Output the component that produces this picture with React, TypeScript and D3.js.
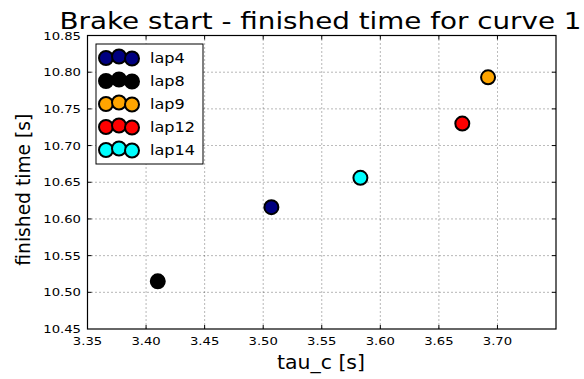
import * as d3 from 'd3';

const laps = ['lap4', 'lap8', 'lap9', 'lap12', 'lap14'];
const tauC = [3.507, 3.41, 3.692, 3.67, 3.583];
const finishedTime = [10.616, 10.515, 10.793, 10.73, 10.656];
const lapColors = ['#000080', '#000000', '#ffa500', '#ff0000', '#00ffff'];
const xTicks = [3.35, 3.4, 3.45, 3.5, 3.55, 3.6, 3.65, 3.7, 3.75];
const yTicks = [10.45, 10.5, 10.55, 10.6, 10.65, 10.7, 10.75, 10.8, 10.85];

const W = 584;
const H = 379;
const left = 87.5;
const right = 556;
const top = 35.5;
const bottom = 329;
const font = 'DejaVu Sans, sans-serif';

// text stretched horizontally, like the reference picture
const T = ({ x, y, sx, size, anchor = 'start', children }: any) => (
  <text transform={`translate(${x},${y}) scale(${sx},1)`} fontSize={size} textAnchor={anchor} fill="#000">
    {children}
  </text>
);

const App = () => {
  const x = d3.scaleLinear().domain([3.35, 3.75]).range([left, right]);
  const y = d3.scaleLinear().domain([10.45, 10.85]).range([bottom, top]);
  const fmt = d3.format('.2f');

  return (
    <svg width={W} height={H} style={{ position: 'absolute', left: 0, top: 0 }} fontFamily={font}>
      <rect x={0} y={0} width={W} height={H} fill="#fff" />
      {/* grid */}
      {xTicks.slice(1, -1).map((t) => (
        <line key={'gx' + t} x1={x(t)} x2={x(t)} y1={top} y2={bottom} stroke="#000" strokeWidth={0.8} strokeDasharray="1,3" opacity={0.7} />
      ))}
      {yTicks.slice(1, -1).map((t) => (
        <line key={'gy' + t} x1={left} x2={right} y1={y(t)} y2={y(t)} stroke="#000" strokeWidth={0.8} strokeDasharray="1,3" opacity={0.7} />
      ))}
      {/* ticks, inside on all sides */}
      {xTicks.slice(1, -1).map((t) => (
        <g key={'tx' + t} stroke="#000">
          <line x1={x(t)} x2={x(t)} y1={bottom} y2={bottom - 4} />
          <line x1={x(t)} x2={x(t)} y1={top} y2={top + 4} />
        </g>
      ))}
      {yTicks.slice(1, -1).map((t) => (
        <g key={'ty' + t} stroke="#000">
          <line x1={left} x2={left + 4} y1={y(t)} y2={y(t)} />
          <line x1={right} x2={right - 4} y1={y(t)} y2={y(t)} />
        </g>
      ))}
      {/* tick labels */}
      {xTicks.slice(0, -1).map((t) => (
        <T key={'lx' + t} x={x(t)} y={345} sx={1.2} size={11} anchor="middle">
          {fmt(t)}
        </T>
      ))}
      {yTicks.map((t) => (
        <T key={'ly' + t} x={81} y={y(t) + 4} sx={1.2} size={11} anchor="end">
          {fmt(t)}
        </T>
      ))}
      {/* points */}
      {laps.map((l, i) => (
        <circle key={l} cx={x(tauC[i])} cy={y(finishedTime[i])} r={7} fill={lapColors[i]} stroke="#000" strokeWidth={2} />
      ))}
      {/* frame */}
      <rect x={left} y={top} width={right - left} height={bottom - top} fill="none" stroke="#000" strokeWidth={1.2} />
      {/* legend */}
      <rect x={96} y={44} width={107} height={120} fill="#fff" stroke="#000" strokeWidth={1} />
      {laps.map((l, i) => {
        const cy = 58 + i * 23;
        return (
          <g key={'lg' + l}>
            {[0, 1, 2].map((k) => (
              <circle key={k} cx={106 + k * 13} cy={cy + (k === 1 ? -1.5 : k === 2 ? 0.5 : 0)} r={7} fill={lapColors[i]} stroke="#000" strokeWidth={2} />
            ))}
            <T x={150} y={cy + 5} sx={1.15} size={14}>
              {l}
            </T>
          </g>
        );
      })}
      {/* titles */}
      <text x={320.5} y={29} fontSize={23.5} textAnchor="middle" fill="#000" textLength={522} lengthAdjust="spacingAndGlyphs">
        Brake start - finished time for curve 1
      </text>
      <text x={321} y={369} fontSize={19} textAnchor="middle" fill="#000" textLength={88} lengthAdjust="spacingAndGlyphs">
        tau_c [s]
      </text>
      <text transform="translate(30,189.7) rotate(-90)" fontSize={19} textAnchor="middle" fill="#000" textLength={152} lengthAdjust="spacingAndGlyphs">
        finished time [s]
      </text>
    </svg>
  );
};

export default App;
